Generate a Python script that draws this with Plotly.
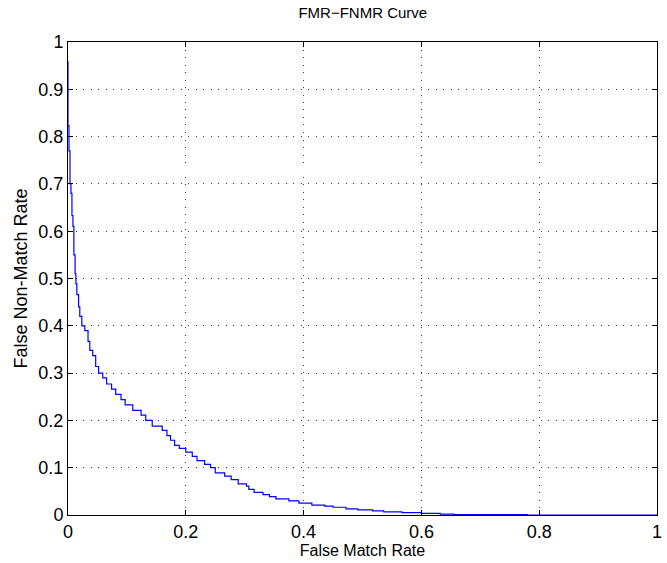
import plotly.graph_objects as go

# FMR-FNMR staircase (step points)
fmr = [0.0, 0.0, 0.0017, 0.0034, 0.005, 0.0067, 0.0084, 0.010, 0.012, 0.0134,
       0.015, 0.018, 0.020, 0.0235, 0.0286, 0.034, 0.037, 0.042, 0.047, 0.052,
       0.059, 0.0655, 0.074, 0.081, 0.090, 0.097, 0.110, 0.124, 0.132, 0.143,
       0.160, 0.168, 0.174, 0.181, 0.189, 0.200, 0.211, 0.219, 0.232, 0.242,
       0.250, 0.266, 0.277, 0.289, 0.303, 0.307, 0.316, 0.331, 0.342, 0.353,
       0.375, 0.392, 0.414, 0.436, 0.450, 0.472, 0.492, 0.517, 0.536, 0.567,
       0.600, 0.632, 0.655, 0.780, 1.0]
fnmr = [0.96, 0.823, 0.77, 0.70, 0.68, 0.633, 0.61, 0.55, 0.51, 0.489,
        0.466, 0.44, 0.42, 0.40, 0.39, 0.367, 0.348, 0.337, 0.314, 0.30,
        0.29, 0.277, 0.266, 0.255, 0.244, 0.233, 0.221, 0.211, 0.20, 0.188,
        0.179, 0.168, 0.158, 0.147, 0.141, 0.133, 0.124, 0.115, 0.107, 0.10,
        0.089, 0.082, 0.075, 0.066, 0.061, 0.054, 0.048, 0.043, 0.039, 0.034,
        0.030, 0.025, 0.021, 0.0186, 0.0164, 0.0129, 0.0107, 0.0086, 0.0064, 0.005,
        0.0036, 0.0018, 0.001, 0.0, 0.0]

x_ticks = [0, 0.2, 0.4, 0.6, 0.8, 1]
x_labels = ["0", "0.2", "0.4", "0.6", "0.8", "1"]
y_ticks = [0, 0.1, 0.2, 0.3, 0.4, 0.5, 0.6, 0.7, 0.8, 0.9, 1]
y_labels = ["0", "0.1", "0.2", "0.3", "0.4", "0.5", "0.6", "0.7", "0.8", "0.9", "1"]

font_family = "Liberation Sans, Arial, Helvetica, sans-serif"

fig = go.Figure()
fig.add_trace(
    go.Scatter(
        x=fmr,
        y=fnmr,
        mode="lines",
        line=dict(color="rgb(0,0,255)", width=1.2, shape="hv"),
        showlegend=False,
    )
)

axis_style = dict(
    range=[0, 1],
    automargin=False,
    ticklabeloverflow="allow",
    showgrid=True,
    gridcolor="rgba(40,40,40,0.9)",
    gridwidth=1,
    griddash="1px,6.5px",
    zeroline=False,
    showline=True,
    linecolor="black",
    linewidth=1,
    mirror="ticks",
    ticks="inside",
    ticklen=5,
    tickcolor="black",
    tickfont=dict(family=font_family, size=18, color="black"),
)

fig.update_xaxes(
    **axis_style,
    tickvals=x_ticks,
    ticktext=x_labels,
    title=dict(text="False Match Rate", font=dict(family=font_family, size=16, color="black"), standoff=3),
)
fig.update_yaxes(
    **axis_style,
    tickvals=y_ticks,
    ticktext=y_labels,
    title=dict(text="False Non-Match Rate", font=dict(family=font_family, size=18, color="black"), standoff=6),
)

fig.update_layout(
    width=667,
    height=563,
    margin=dict(l=68, r=10, t=42, b=48),
    paper_bgcolor="white",
    plot_bgcolor="white",
    title=dict(
        text="FMR\u2212FNMR Curve",
        x=0.544,
        xanchor="center",
        y=0.977,
        yanchor="middle",
        font=dict(family=font_family, size=15, color="black"),
    ),
)

# drop the default 8px body margin so the figure sits at the page corner
fig.write_html(
    "out.html",
    config={"displayModeBar": False},
    post_script="document.body.style.margin='0';",
)
